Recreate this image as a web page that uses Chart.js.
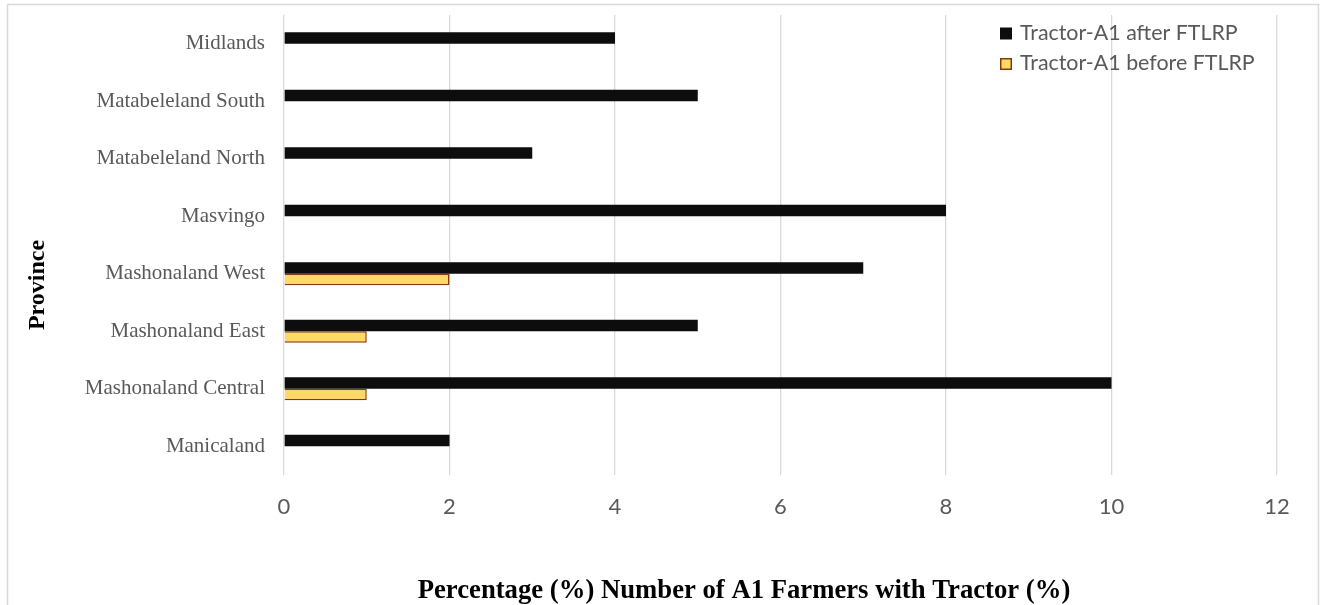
<!DOCTYPE html>
<html>
<head>
<meta charset="utf-8">
<script src="https://cdn.jsdelivr.net/npm/chart.js@4.4.1/dist/chart.umd.min.js"></script>
<style>
  html, body { margin: 0; padding: 0; background: #ffffff; }
  #wrap { position: relative; width: 1324px; height: 605px; overflow: hidden; }
</style>
</head>
<body>
<div id="wrap"><canvas id="chart" width="1324" height="605"></canvas></div>
<script>
// Provinces, listed top to bottom
const provinces = [
  'Midlands',
  'Matabeleland South',
  'Matabeleland North',
  'Masvingo',
  'Mashonaland West',
  'Mashonaland East',
  'Mashonaland Central',
  'Manicaland'
];
// Share of A1 farmers owning a tractor (%)
const afterFTLRP  = [4, 5, 3, 8, 7, 5, 10, 2];
const beforeFTLRP = [0, 0, 0, 0, 2, 1, 1, 0];
const xTickValues = [0, 2, 4, 6, 8, 10, 12];
const seriesNames = ['Tractor-A1 after FTLRP', 'Tractor-A1 before FTLRP'];
const xAxisTitle = 'Percentage (%) Number of A1 Farmers with Tractor (%)';
const yAxisTitle = 'Province';

const SANS = 'Lato, "Open Sans", sans-serif';
const SERIF = '"Liberation Serif", "Times New Roman", serif';
const TEXT_GREY = '#595959';
const GRID_GREY = '#d9d9d9';
const BLACK_BAR = '#0d0d0d';
const GOLD_FILL = '#ffd966';
const GOLD_EDGE = '#843c0c';

// Frame, axis titles and the in-plot legend
const decorations = {
  id: 'decorations',
  beforeDraw(chart) {
    const ctx = chart.ctx;
    ctx.save();
    ctx.strokeStyle = GRID_GREY;
    ctx.lineWidth = 1.5;
    ctx.strokeRect(7.5, 4.5, 1311, 700);
    ctx.restore();
  },
  afterDraw(chart) {
    const ctx = chart.ctx;
    ctx.save();
    // axis titles
    ctx.fillStyle = '#000000';
    ctx.textAlign = 'center';
    ctx.textBaseline = 'alphabetic';
    ctx.font = 'bold 26.7px ' + SERIF;
    ctx.fillText(xAxisTitle, 744, 598);
    ctx.font = 'bold 24px ' + SERIF;
    ctx.translate(44, 285);
    ctx.rotate(-Math.PI / 2);
    ctx.fillText(yAxisTitle, 0, 0);
    ctx.restore();

    // legend
    ctx.save();
    ctx.font = '21.4px ' + SANS;
    ctx.textAlign = 'left';
    ctx.textBaseline = 'alphabetic';
    const rows = [
      { y: 39.5, fill: BLACK_BAR, edge: null },
      { y: 70, fill: GOLD_FILL, edge: GOLD_EDGE }
    ];
    rows.forEach((r, i) => {
      ctx.fillStyle = r.fill;
      ctx.fillRect(1000, r.y - 12, 12, 12);
      if (r.edge) {
        ctx.strokeStyle = r.edge;
        ctx.lineWidth = 1.5;
        ctx.strokeRect(1000.75, r.y - 11.25, 10.5, 10.5);
      }
      ctx.fillStyle = TEXT_GREY;
      ctx.fillText(seriesNames[i], 1020, r.y);
    });
    ctx.restore();
  }
};

new Chart(document.getElementById('chart'), {
  type: 'bar',
  data: {
    labels: provinces,
    datasets: [
      {
        label: seriesNames[0],
        data: afterFTLRP,
        backgroundColor: BLACK_BAR,
        borderWidth: 0,
        barPercentage: 1,
        categoryPercentage: 0.4
      },
      {
        label: seriesNames[1],
        data: beforeFTLRP,
        backgroundColor: GOLD_FILL,
        borderColor: GOLD_EDGE,
        borderWidth: 1.5,
        borderSkipped: 'start',
        barPercentage: 1,
        categoryPercentage: 0.4
      }
    ]
  },
  options: {
    indexAxis: 'y',
    responsive: false,
    animation: false,
    devicePixelRatio: 1,
    layout: { padding: { left: 0, top: 15, right: 47, bottom: 0 } },
    plugins: {
      legend: { display: false },
      tooltip: { enabled: false }
    },
    scales: {
      x: {
        type: 'linear',
        min: 0,
        max: 12,
        afterBuildTicks(scale) {
          scale.ticks = xTickValues.map(v => ({ value: v }));
        },
        afterFit(scale) {
          scale.height = 130;
          scale.paddingLeft = 0;
          scale.paddingRight = 0;
        },
        grid: { color: GRID_GREY, lineWidth: 1.3, drawTicks: false },
        border: { display: false },
        ticks: {
          color: TEXT_GREY,
          font: { family: SANS, size: 22 },
          padding: 19
        }
      },
      y: {
        type: 'category',
        afterFit(scale) {
          scale.width = 284;
          scale.paddingTop = 0;
          scale.paddingBottom = 0;
        },
        grid: { display: false, drawTicks: false },
        border: { display: false },
        ticks: {
          color: TEXT_GREY,
          font: { family: SERIF, size: 21 },
          padding: 19
        }
      }
    }
  },
  plugins: [decorations]
});
</script>
</body>
</html>
